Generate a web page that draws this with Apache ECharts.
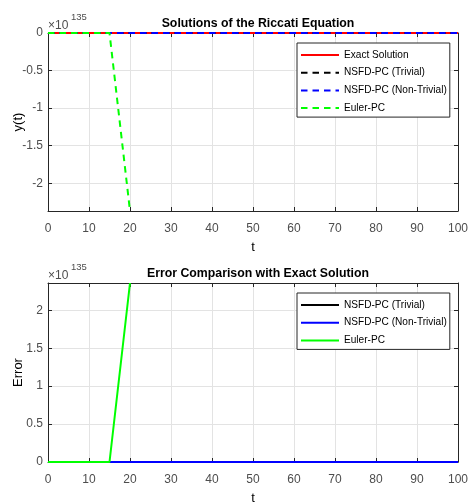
<!DOCTYPE html>
<html>
<head>
<meta charset="utf-8">
<script src="https://cdn.jsdelivr.net/npm/echarts@6/dist/echarts.min.js"></script>
<style>
html,body{margin:0;padding:0;background:#fff;}
#chart{width:468px;height:502px;}
</style>
</head>
<body>
<div id="chart"></div>
<script>
// Values are in units of 1e135 (the axis exponent shown as ×10^135)
const tValues        = [0,5,10,15,20,25,30,35,40,45,50,55,60,65,70,75,80,85,90,95,100];
const exactSol       = [0,0,0,0,0,0,0,0,0,0,0,0,0,0,0,0,0,0,0,0,0];
const nsfdTrivial    = [0,0,0,0,0,0,0,0,0,0,0,0,0,0,0,0,0,0,0,0,0];
const nsfdNonTrivial = [0,0,0,0,0,0,0,0,0,0,0,0,0,0,0,0,0,0,0,0,0];
const eulerPC        = [0,0,0,0,-2.37,null,null,null,null,null,null,null,null,null,null,null,null,null,null,null,null];
const errTrivial     = [0,0,0,0,0,0,0,0,0,0,0,0,0,0,0,0,0,0,0,0,0];
const errNonTrivial  = [0,0,0,0,0,0,0,0,0,0,0,0,0,0,0,0,0,0,0,0,0];
const errEuler       = [0,0,0,0,2.36,null,null,null,null,null,null,null,null,null,null,null,null,null,null,null,null];
const yTicksTop      = [-2,-1.5,-1,-0.5,0];
const yTicksBottom   = [0,0.5,1,1.5,2];

const FONT = '"Liberation Sans",Arial,sans-serif';
const AX = '#262626', LBL = '#4d4d4d', GRID = '#e3e3e3';
const DASH = [6.5,5];

function pairs(ys){ return tValues.map((t,i)=>[t, ys[i]]); }

function xAx(g, pos, labels){
  return {
    type:'value', gridIndex:g, position:pos, min:0, max:100, interval:10,
    axisLine:{show:true, onZero:false, lineStyle:{color:AX, width:1}},
    axisTick:{show:true, inside:true, length:4, lineStyle:{color:AX}},
    axisLabel:{show:labels, color:LBL, fontFamily:FONT, fontSize:12, margin:12},
    splitLine:{show:labels, lineStyle:{color:GRID, width:1}},
    name: labels ? 't' : '', nameLocation:'middle', nameGap:30, nameMoveOverlap:false,
    nameTextStyle:{color:'#000', fontFamily:FONT, fontSize:13}
  };
}
function yAx(g, pos, labels, mn, mx, ticks, nm){
  return {
    type:'value', gridIndex:g, position:pos, min:mn, max:mx,
    axisLine:{show:true, onZero:false, lineStyle:{color:AX, width:1}},
    axisTick:{show:true, inside:true, length:4, lineStyle:{color:AX}, customValues:ticks},
    axisLabel:{show:labels, color:LBL, fontFamily:FONT, fontSize:12, margin:5, customValues:ticks},
    splitLine:{show:labels, lineStyle:{color:GRID, width:1}},
    name: labels ? nm : '', nameLocation:'middle', nameGap:23, nameRotate:90, nameMoveOverlap:false,
    nameTextStyle:{color:'#000', fontFamily:FONT, fontSize:13}
  };
}

function line(name, data, color, dashed, xi, yi){
  return {
    type:'line', name:name, data:pairs(data), xAxisIndex:xi, yAxisIndex:yi,
    symbol:'none', clip:false, connectNulls:false,
    lineStyle:{color:color, width:2, type: dashed ? DASH : 'solid'},
    itemStyle:{color:color}, emphasis:{disabled:true}, animation:false
  };
}

const chart = echarts.init(document.getElementById('chart'), null, {renderer:'canvas'});
const legendCommon = {
  orient:'vertical', backgroundColor:'#fff', borderColor:AX, borderWidth:1,
  itemWidth:38, itemHeight:3, itemGap:7.7, padding:[7,3,4,3],
  itemStyle:{opacity:0},
  lineStyle:{width:2},
  textStyle:{color:'#000', fontFamily:FONT, fontSize:10.1},
  selectedMode:false, formatter: n => n.trim()
};
chart.setOption({
  animation:false,
  title:[
    {text:'Solutions of the Riccati Equation', left:253, top:13, textAlign:'center',
     textStyle:{fontFamily:FONT, fontSize:12.3, fontWeight:'bold', color:'#000'}},
    {text:'Error Comparison with Exact Solution', left:253, top:263, textAlign:'center',
     textStyle:{fontFamily:FONT, fontSize:12.3, fontWeight:'bold', color:'#000'}}
  ],
  grid:[
    {left:48, right:10, top:33, height:178, outerBoundsMode:'none', containLabel:false},
    {left:48, right:10, top:283, height:179, outerBoundsMode:'none', containLabel:false}
  ],
  xAxis:[ xAx(0,'bottom',true), xAx(0,'top',false), xAx(1,'bottom',true), xAx(1,'top',false) ],
  yAxis:[ yAx(0,'left',true,-2.37,0,yTicksTop,'y(t)'), yAx(0,'right',false,-2.37,0,yTicksTop,''),
          yAx(1,'left',true,0,2.36,yTicksBottom,'Error'), yAx(1,'right',false,0,2.36,yTicksBottom,'') ],
  legend:[
    Object.assign({left:297, top:43, data:['Exact Solution','NSFD-PC (Trivial)','NSFD-PC (Non-Trivial)','Euler-PC']}, legendCommon),
    Object.assign({left:297, top:293, data:['NSFD-PC (Trivial) ','NSFD-PC (Non-Trivial) ','Euler-PC ']}, legendCommon)
  ],
  graphic:[
    {type:'text', left:48, top:20, style:{text:'×10', fontFamily:FONT, fontSize:12, fill:LBL}},
    {type:'text', left:71, top:12, style:{text:'135', fontFamily:FONT, fontSize:9.5, fill:LBL}},
    {type:'text', left:48, top:270, style:{text:'×10', fontFamily:FONT, fontSize:12, fill:LBL}},
    {type:'text', left:71, top:262, style:{text:'135', fontFamily:FONT, fontSize:9.5, fill:LBL}}
  ],
  series:[
    line('Exact Solution', exactSol, '#ff0000', false, 0, 0),
    line('NSFD-PC (Trivial)', nsfdTrivial, '#000000', true, 0, 0),
    line('NSFD-PC (Non-Trivial)', nsfdNonTrivial, '#0000ff', true, 0, 0),
    line('Euler-PC', eulerPC, '#00ff00', true, 0, 0),
    line('NSFD-PC (Trivial) ', errTrivial, '#000000', false, 2, 2),
    line('NSFD-PC (Non-Trivial) ', errNonTrivial, '#0000ff', false, 2, 2),
    line('Euler-PC ', errEuler, '#00ff00', false, 2, 2)
  ]
});
</script>
</body>
</html>
